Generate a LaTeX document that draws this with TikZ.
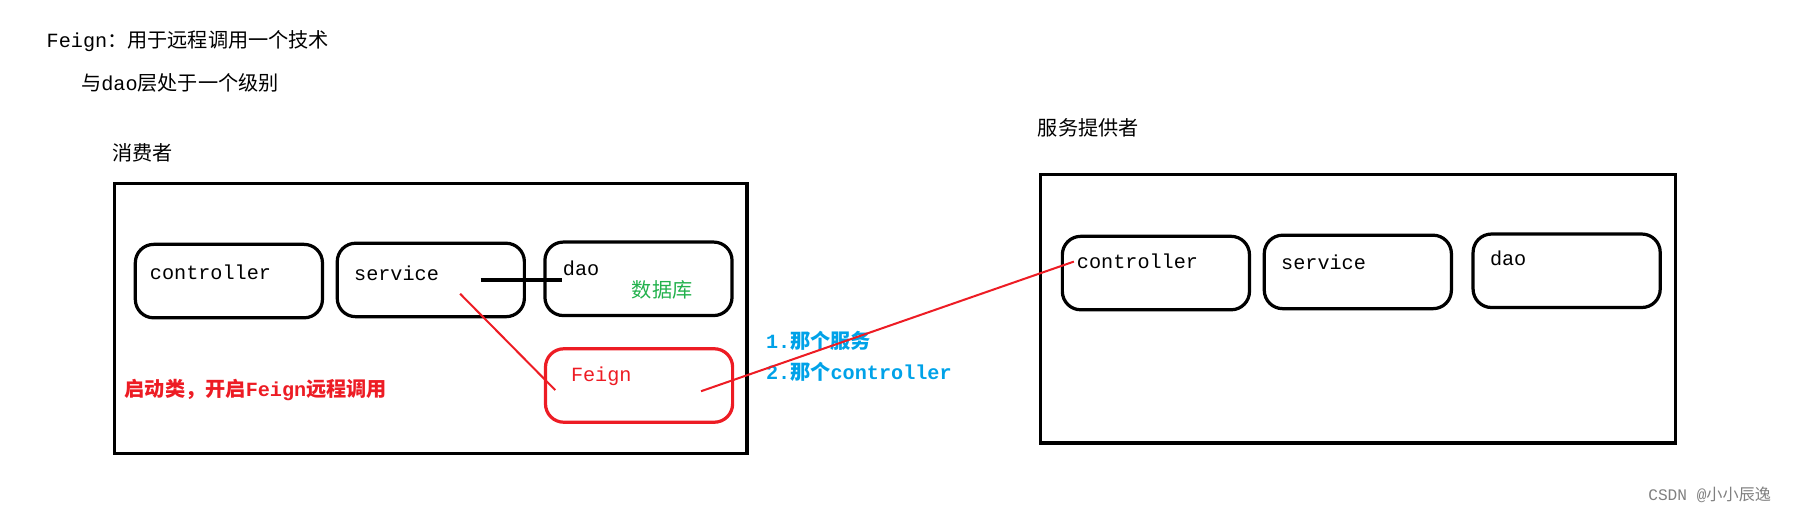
\documentclass[tikz,border=0pt]{standalone}
\usepackage{fontspec}
\setmainfont{Liberation Mono}
\newfontfamily\cjk{Noto Sans CJK SC}
\definecolor{feignred}{RGB}{237,28,36}
\definecolor{infoblue}{RGB}{0,162,232}
\definecolor{dbgreen}{RGB}{34,177,76}
\begin{document}
\begin{tikzpicture}[x=0.01cm,y=-0.01cm,
    txt/.style={anchor=west, inner sep=0pt, font=\fontsize{5}{6}\selectfont},
    layer/.style={draw, line width=0.8pt, rounded corners=1.6mm, minimum width=1.63cm, minimum height=0.64cm, inner sep=0pt},
    frame/.style={draw, line width=0.8pt, inner sep=0pt}]

    \useasboundingbox (0,0) rectangle (1568,448);

    % header notes
    \node[txt] (title) at (40,36) {Feign{\cjk：用于远程调用一个技术}};
    \node[txt] (level) at (70,72) {{\cjk 与}dao{\cjk 层处于一个级别}};

    % consumer side
    \node[txt] (consumerlbl) at (97,133) {\cjk 消费者};
    \node[frame, minimum width=5.51cm, minimum height=2.35cm] (consumer) at (375.5,277.5) {};
    \node[layer] (cctrl) at (199.5,245) {};
    \node[layer] (csvc) at (375.5,244) {};
    \node[layer] (cdao) at (556.5,243) {};
    \node[layer, draw=feignred] (feign) at (557,336) {};
    \node[txt] at (130,237) {controller};
    \node[txt] at (308,238) {service};
    \node[txt] at (490,234) {dao};
    \node[txt, text=dbgreen] (db) at (550,253) {\cjk 数据库};
    \node[txt, text=feignred] at (497,328) {Feign};
    \node[txt, text=feignred] (boot) at (108,340) {\bfseries{\cjk 启动类，开启}Feign{\cjk 远程调用}};

    % provider side
    \node[txt] (providerlbl) at (904,111) {\cjk 服务提供者};
    \node[frame, minimum width=5.53cm, minimum height=2.34cm] (provider) at (1183.5,269) {};
    \node[layer] (pctrl) at (1007.5,238) {};
    \node[layer] (psvc) at (1183.5,237) {};
    \node[layer] (pdao) at (1365.5,236) {};
    \node[txt] at (938,228) {controller};
    \node[txt] at (1116,229) {service};
    \node[txt] at (1298,225) {dao};

    % call info
    \node[txt, text=infoblue] (q1) at (667,297) {\bfseries 1.{\cjk 那个服务}};
    \node[txt, text=infoblue] (q2) at (667,324) {\bfseries 2.{\cjk 那个}controller};

    % connectors
    \coordinate (svcout) at (419,244);
    \coordinate (daoin) at (490,244);
    \coordinate (svcdown) at (401,256);
    \coordinate (feignin) at (484,340);
    \coordinate (feignout) at (611,341);
    \coordinate (ctrlin) at (936,228);
    \draw[line width=0.8pt] (svcout) -- (daoin);
    \draw[feignred, line width=0.5pt] (svcdown) -- (feignin);
    \draw[feignred, line width=0.5pt] (feignout) -- (ctrlin);

    \node[txt, text=gray, font=\fontsize{4}{5}\selectfont] (mark) at (1436,431) {CSDN @{\cjk 小小辰逸}};
\end{tikzpicture}
\end{document}
